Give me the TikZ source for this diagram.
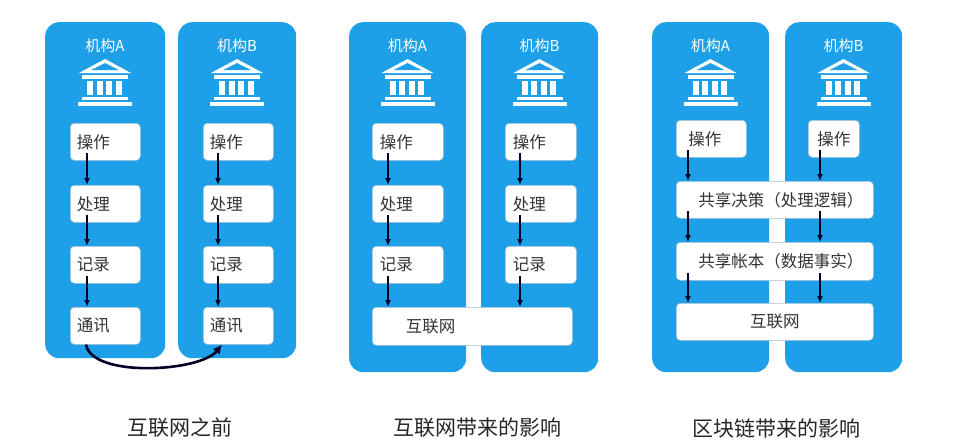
\documentclass[tikz,border=0pt]{standalone}
\usepackage{fontspec}
\setmainfont{Noto Sans CJK SC}
\usetikzlibrary{arrows.meta}
\definecolor{colblue}{HTML}{1EA0E8}
\definecolor{txt}{HTML}{333333}
\tikzset{
  col/.style={fill=colblue,draw=none,rounded corners=14pt},
  wbox/.style={fill=white,draw=colblue!60!black!40,line width=0.6pt,rounded corners=4pt,text=txt,font=\fontsize{16.5}{16.5}\selectfont,inner sep=0pt},
  head/.style={text=white,font=\fontsize{15}{15}\selectfont},
  captext/.style={text=black!85,font=\fontsize{21}{21}\selectfont},
  arr/.style={-{Latex[length=7pt,width=6pt]},line width=1.8pt,draw=black!85!blue},
  pics/bank/.style={code={
    \fill[white] (-26,-10) -- (0,-24) -- (26,-10) -- cycle;
    \fill[colblue] (-14,-13) -- (0,-20) -- (14,-13) -- cycle;
    \fill[white] (-23,-8) rectangle (23,-4);
    \foreach \i in {-18,-8.5,1,10.5} \fill[white] (\i,-2) rectangle (\i+6,12);
    \fill[white] (-23,14) rectangle (23,17);
    \fill[white] (-27,19) rectangle (27,23);
  }}
}
\begin{document}
\begin{tikzpicture}[x=1pt,y=-1pt]
\useasboundingbox (0,0) rectangle (956,440);
% columns
\foreach \n/\xa/\xb/\yb/\lab in {cA1/45/165/358/A,cB1/178/296/358/B,cA2/349/466/372/A,cB2/481/598/372/B,cA3/652/769/372/A,cB3/785/902/372/B}{
  \node[col,minimum width=\xb-\xa,minimum height=\yb-22,anchor=north west] (\n) at (\xa,22) {};
  \node[head] (\n h) at ({(\xa+\xb)/2},46) {机构\lab};
  \pic at ({(\xa+\xb)/2},83) {bank};
}
% panel 1
\foreach \p/\x in {a/70,b/203}{
  \node[wbox,minimum width=70,minimum height=37,anchor=north west,text width=57] (\p1op) at (\x,123) {操作};
  \node[wbox,minimum width=70,minimum height=37,anchor=north west,text width=57] (\p1pr) at (\x,185) {处理};
  \node[wbox,minimum width=70,minimum height=37,anchor=north west,text width=57] (\p1re) at (\x,246) {记录};
  \node[wbox,minimum width=70,minimum height=37,anchor=north west,text width=57] (\p1co) at (\x,307) {通讯};
}
\foreach \p/\x in {a/87,b/218}{
  \draw[arr] (\p1op.south -| \x,0) ++(0,-8) -- (\p1pr.north -| \x,0);
  \draw[arr] (\p1pr.south -| \x,0) ++(0,-8) -- (\p1re.north -| \x,0);
  \draw[arr] (\p1re.south -| \x,0) ++(0,-8) -- (\p1co.north -| \x,0);
}
\draw[arr,line width=2.6pt,-{Latex[length=9pt,width=9pt]}] (a1co.south -| 86,0) .. controls (92,378) and (200,372) .. (b1co.south -| 222,0);
% panel 2
\foreach \p/\x in {a/372,b/505}{
  \node[wbox,minimum width=71,minimum height=37,anchor=north west,text width=56] (\p2op) at (\x,123) {操作};
  \node[wbox,minimum width=71,minimum height=37,anchor=north west,text width=56] (\p2pr) at (\x,185) {处理};
  \node[wbox,minimum width=71,minimum height=37,anchor=north west,text width=56] (\p2re) at (\x,246) {记录};
}
\node[wbox,minimum width=200,minimum height=38,anchor=north west,text width=185] (net2) at (372,307) {\hspace{26pt}互联网};
\foreach \p/\x in {a/388,b/520}{
  \draw[arr] (\p2op.south -| \x,0) ++(0,-8) -- (\p2pr.north -| \x,0);
  \draw[arr] (\p2pr.south -| \x,0) ++(0,-8) -- (\p2re.north -| \x,0);
  \draw[arr] (\p2re.south -| \x,0) ++(0,-8) -- (net2.north -| \x,0);
}
% panel 3
\node[wbox,minimum width=70,minimum height=37,anchor=north west,text width=60] (a3op) at (676,120) {\hspace{7pt}操作};
\node[wbox,minimum width=51,minimum height=37,anchor=north west] (b3op) at (808,120) {操作};
\node[wbox,minimum width=197,minimum height=37,anchor=north west] (d3) at (676,181) {\hspace{12pt}共享决策（处理逻辑）};
\node[wbox,minimum width=197,minimum height=38,anchor=north west] (l3) at (676,242) {\hspace{12pt}共享帐本（数据事实）};
\node[wbox,minimum width=197,minimum height=37,anchor=north west] (net3) at (676,303) {互联网};
\foreach \x/\s in {688/a3op,820/b3op}{
  \draw[arr] (\s.south -| \x,0) ++(0,-8) -- (d3.north -| \x,0);
  \draw[arr] (d3.south -| \x,0) ++(0,-8) -- (l3.north -| \x,0);
  \draw[arr] (l3.south -| \x,0) ++(0,-8) -- (net3.north -| \x,0);
}
% captions
\node[captext] (c1) at (180,428) {互联网之前};
\node[captext] (c2) at (477,428) {互联网带来的影响};
\node[captext] (c3) at (776,428) {区块链带来的影响};
\end{tikzpicture}
\end{document}
